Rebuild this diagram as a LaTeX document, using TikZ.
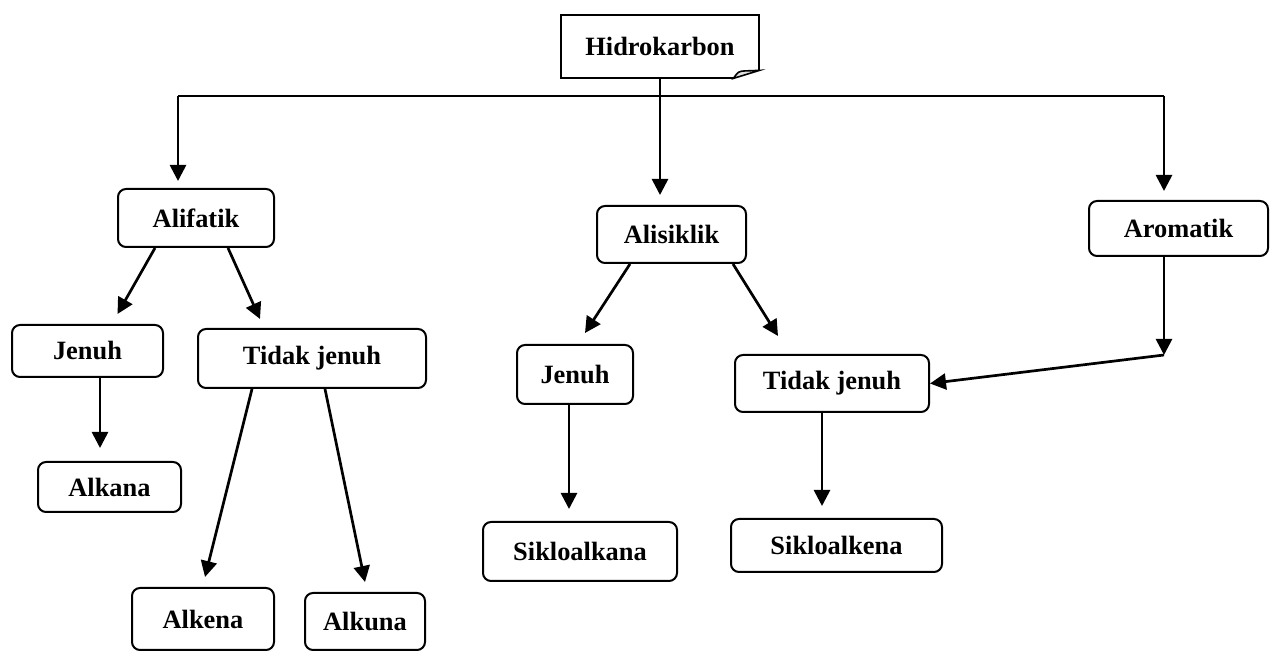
\documentclass[tikz,border=0pt]{standalone}
\usepackage{fontspec}
\setmainfont{Liberation Serif}
\usepackage{tikz}
\usetikzlibrary{positioning, arrows.meta, calc}

\begin{document}
\begin{tikzpicture}[
    x=0.5pt, y=-0.5pt,
    box/.style={draw, rounded corners=4pt, line width=1pt,
        font=\fontsize{13.2}{15}\selectfont\bfseries, inner sep=0pt},
    arr/.style={-{Triangle[length=8pt,width=8pt]}, line width=1.35pt},
    link/.style={line width=1.35pt}
]
    \useasboundingbox (0,0) rectangle (1275,651);
    % Root note at the top, three classes below it,
    % Alifatik on the left, Alisiklik in the middle, Aromatik on the right.
    \node[inner sep=0pt, minimum width=99pt, minimum height=31.5pt,
          font=\fontsize{13.2}{15}\selectfont\bfseries] (hidro) at (660,46.5) {Hidrokarbon};
    \node[box, minimum width=78pt, minimum height=29pt] (alifatik) at (196,218) {Alifatik};
    \node[box, minimum width=74.5pt, minimum height=28.5pt] (alisiklik) at (671.5,234.5) {Alisiklik};
    \node[box, minimum width=89.5pt, minimum height=27.5pt] (aromatik) at (1178.5,228.5) {Aromatik};

    % second level
    \node[box, minimum width=75.5pt, minimum height=26pt] (jenuhA) at (87.5,351) {Jenuh};
    \node[box, minimum width=114pt, minimum height=29.5pt] (tidakA) at (312,358.5) {Tidak jenuh};
    \node[box, minimum width=58pt, minimum height=29.5pt] (jenuhB) at (575,374.5) {Jenuh};
    \node[box, minimum width=97pt, minimum height=28.5pt] (tidakB) at (832,383.5) {Tidak jenuh};

    % leaves
    \node[box, minimum width=71.5pt, minimum height=25pt] (alkana) at (109.5,487) {Alkana};
    \node[box, minimum width=71pt, minimum height=31pt] (alkena) at (203,619) {Alkena};
    \node[box, minimum width=60pt, minimum height=28.5pt] (alkuna) at (365,621.5) {Alkuna};
    \node[box, minimum width=97pt, minimum height=29.5pt] (sikloalkana) at (580,551.5) {Sikloalkana};
    \node[box, minimum width=105.5pt, minimum height=26.5pt] (sikloalkena) at (836.5,545.5) {Sikloalkena};

    % note outline with folded corner
    \draw[line width=1pt] ($(hidro.south east)+(-26,0)$) -- (hidro.south west)
        -- (hidro.north west) -- (hidro.north east) -- ($(hidro.south east)+(0,-8)$);
    \draw[line width=0.8pt, fill=black!12] ($(hidro.south east)+(-26,0)$)
        .. controls ($(hidro.south east)+(-21,-7)$) .. ($(hidro.south east)+(-14,-7.5)$)
        -- ($(hidro.south east)+(0,-8)$) -- cycle;

    \coordinate (split) at (660,96);
    \coordinate (lcorner) at (178,96);
    \coordinate (rcorner) at (1164,96);
    \coordinate (bend) at (1164,355);

    \draw[link] (hidro.south) -- (split);
    \draw[link] (lcorner) -- (rcorner);
    \draw[arr, shorten >=5pt] (split) -- (split |- alisiklik.north);
    \draw[arr, shorten >=3.5pt] (lcorner) -- (lcorner |- alifatik.north);
    \draw[arr, shorten >=4.5pt] (rcorner) -- (rcorner |- aromatik.north);

    \draw[arr] ($(alifatik.south)+(-41,0)$) -- ($(jenuhA.north)+(30,-10)$);
    \draw[arr] ($(alifatik.south)+(32,0)$) -- ($(tidakA.north)+(-52,-9)$);
    \draw[arr] ($(jenuhA.south)+(12.5,0)$) -- ($(alkana.north)+(-9.5,-13)$);
    \draw[arr] ($(tidakA.south)+(-60,0)$) -- ($(alkena.north)+(2,-10)$);
    \draw[arr] ($(tidakA.south)+(13,0)$) -- ($(alkuna.north)+(0,-10)$);

    \draw[arr] ($(alisiklik.south)+(-41.5,0)$) -- ($(jenuhB.north)+(10,-11)$);
    \draw[arr] ($(alisiklik.south)+(61.5,0)$) -- ($(tidakB.north)+(-54,-18)$);
    \draw[arr] ($(jenuhB.south)+(-6,0)$) -- ($(sikloalkana.north)+(-11,-12)$);
    \draw[arr] ($(tidakB.south)+(-10,0)$) -- ($(sikloalkena.north)+(-14.5,-12)$);

    \draw[arr] (rcorner |- aromatik.south) -- (bend);
    \draw[arr] (bend) -- (tidakB.east);
\end{tikzpicture}
\end{document}
